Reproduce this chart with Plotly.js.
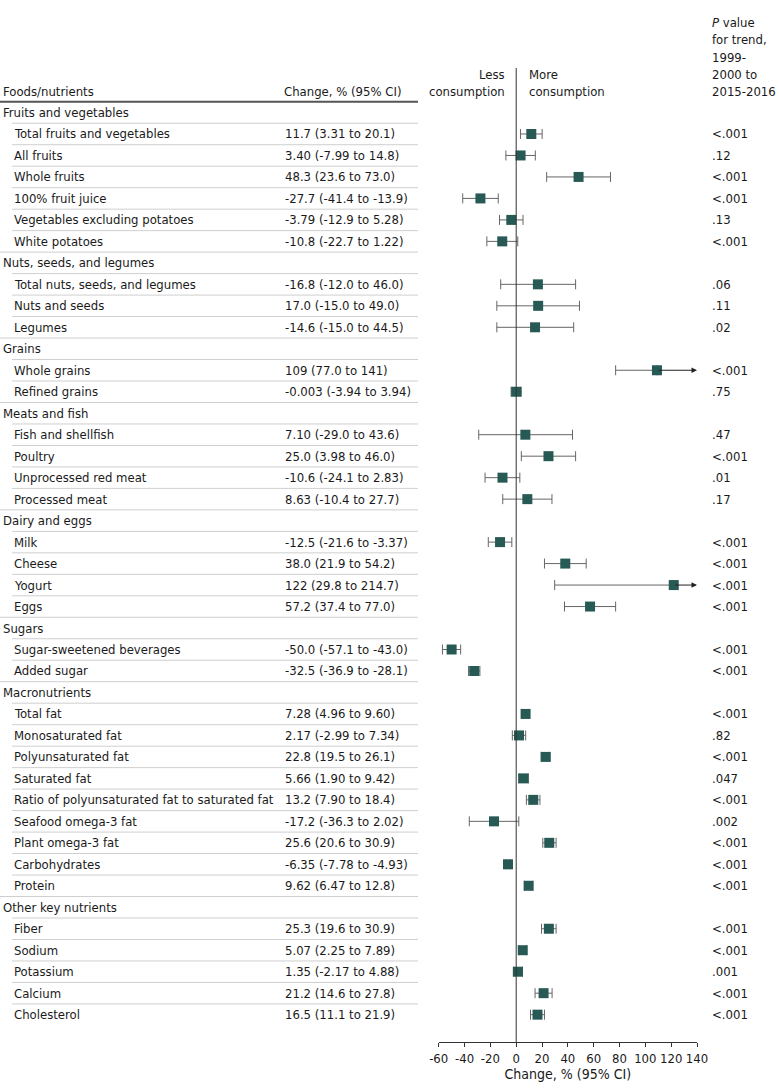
<!DOCTYPE html>
<html>
<head>
<meta charset="utf-8">
<script src="https://cdn.plot.ly/plotly-3.0.1.min.js"></script>
<style>html,body{margin:0;padding:0;background:#fff;}#chart{width:780px;height:1092px;}</style>
</head>
<body>
<div id="chart"></div>
<script>
// ---------------- DATA ----------------
const groups = ["Fruits and vegetables", "Nuts, seeds, and legumes", "Grains", "Meats and fish",
  "Dairy and eggs", "Sugars", "Macronutrients", "Other key nutrients"];

const items = ["Total fruits and vegetables", "All fruits", "Whole fruits", "100% fruit juice",
  "Vegetables excluding potatoes", "White potatoes",
  "Total nuts, seeds, and legumes", "Nuts and seeds", "Legumes",
  "Whole grains", "Refined grains",
  "Fish and shellfish", "Poultry", "Unprocessed red meat", "Processed meat",
  "Milk", "Cheese", "Yogurt", "Eggs",
  "Sugar-sweetened beverages", "Added sugar",
  "Total fat", "Monosaturated fat", "Polyunsaturated fat", "Saturated fat",
  "Ratio of polyunsaturated fat to saturated fat", "Seafood omega-3 fat", "Plant omega-3 fat",
  "Carbohydrates", "Protein",
  "Fiber", "Sodium", "Potassium", "Calcium", "Cholesterol"];

const itemGroup = [0, 0, 0, 0, 0, 0, 1, 1, 1, 2, 2, 3, 3, 3, 3, 4, 4, 4, 4, 5, 5,
  6, 6, 6, 6, 6, 6, 6, 6, 6, 7, 7, 7, 7, 7];

const estimate = [11.7, 3.40, 48.3, -27.7, -3.79, -10.8,
  16.8, 17.0, 14.6,
  109, -0.003,
  7.10, 25.0, -10.6, 8.63,
  -12.5, 38.0, 122, 57.2,
  -50.0, -32.5,
  7.28, 2.17, 22.8, 5.66, 13.2, -17.2, 25.6, -6.35, 9.62,
  25.3, 5.07, 1.35, 21.2, 16.5];

const lower = [3.31, -7.99, 23.6, -41.4, -12.9, -22.7,
  -12.0, -15.0, -15.0,
  77.0, -3.94,
  -29.0, 3.98, -24.1, -10.4,
  -21.6, 21.9, 29.8, 37.4,
  -57.1, -36.9,
  4.96, -2.99, 19.5, 1.90, 7.90, -36.3, 20.6, -7.78, 6.47,
  19.6, 2.25, -2.17, 14.6, 11.1];

const upper = [20.1, 14.8, 73.0, -13.9, 5.28, 1.22,
  46.0, 49.0, 44.5,
  141, 3.94,
  43.6, 46.0, 2.83, 27.7,
  -3.37, 54.2, 214.7, 77.0,
  -43.0, -28.1,
  9.60, 7.34, 26.1, 9.42, 18.4, 2.02, 30.9, -4.93, 12.8,
  30.9, 7.89, 4.88, 27.8, 21.9];

const ciText = ["11.7 (3.31 to 20.1)", "3.40 (-7.99 to 14.8)", "48.3 (23.6 to 73.0)",
  "-27.7 (-41.4 to -13.9)", "-3.79 (-12.9 to 5.28)", "-10.8 (-22.7 to 1.22)",
  "-16.8 (-12.0 to 46.0)", "17.0 (-15.0 to 49.0)", "-14.6 (-15.0 to 44.5)",
  "109 (77.0 to 141)", "-0.003 (-3.94 to 3.94)",
  "7.10 (-29.0 to 43.6)", "25.0 (3.98 to 46.0)", "-10.6 (-24.1 to 2.83)", "8.63 (-10.4 to 27.7)",
  "-12.5 (-21.6 to -3.37)", "38.0 (21.9 to 54.2)", "122 (29.8 to 214.7)", "57.2 (37.4 to 77.0)",
  "-50.0 (-57.1 to -43.0)", "-32.5 (-36.9 to -28.1)",
  "7.28 (4.96 to 9.60)", "2.17 (-2.99 to 7.34)", "22.8 (19.5 to 26.1)", "5.66 (1.90 to 9.42)",
  "13.2 (7.90 to 18.4)", "-17.2 (-36.3 to 2.02)", "25.6 (20.6 to 30.9)", "-6.35 (-7.78 to -4.93)",
  "9.62 (6.47 to 12.8)",
  "25.3 (19.6 to 30.9)", "5.07 (2.25 to 7.89)", "1.35 (-2.17 to 4.88)", "21.2 (14.6 to 27.8)",
  "16.5 (11.1 to 21.9)"];

const pValue = ["<.001", ".12", "<.001", "<.001", ".13", "<.001",
  ".06", ".11", ".02",
  "<.001", ".75",
  ".47", "<.001", ".01", ".17",
  "<.001", "<.001", "<.001", "<.001",
  "<.001", "<.001",
  "<.001", ".82", "<.001", ".047", "<.001", ".002", "<.001", "<.001", "<.001",
  "<.001", "<.001", ".001", "<.001", "<.001"];

const xTickVals = [-60, -40, -20, 0, 20, 40, 60, 80, 100, 120, 140];
const xTickText = ["-60", "-40", "-20", "0", "20", "40", "60", "80", "100", "120", "140"];
const xRange = [-60, 140];

const colHeaders = {name: "Foods/nutrients", ci: "Change, % (95% CI)",
  less: ["Less", "consumption"], more: ["More", "consumption"],
  p: ["<i>P</i> value", "for trend,", "1999-", "2000 to", "2015-2016"]};
const axisTitle = "Change, % (95% CI)";

// ---------------- LAYOUT HELPERS ----------------
const W = 780, H = 1092;
const FONT = "'DejaVu Sans Condensed', 'Liberation Sans Narrow', 'Roboto Condensed', 'DejaVu Sans', sans-serif";
const TXT = "#1a1a1a";
const FS = 13;
const plotTop = 68, plotBottom = 1042;
const row0 = 112.5, rowH = 21.48;
const rowOf = p => (p - row0) / rowH;
const paperY = p => (plotBottom - p) / (plotBottom - plotTop);
const xLeft = 438.7, xRight = 697;
const px = v => v / W;

// build rows
const rows = [];
groups.forEach((g, gi) => {
  rows.push({type: "h", label: g, g: gi});
  items.forEach((it, k) => { if (itemGroup[k] === gi) rows.push({type: "i", label: it, k: k}); });
});
const nRows = rows.length;

const annotations = [];
const shapes = [];
const tfont = {family: FONT, size: FS, color: TXT};

// table text
rows.forEach((r, i) => {
  annotations.push({xref: "paper", yref: "y", x: px(r.type === "h" ? 1 : 12), y: i,
    text: r.label, showarrow: false, xanchor: "left", yanchor: "middle", font: tfont});
  if (r.type === "i") {
    annotations.push({xref: "paper", yref: "y", x: px(283), y: i, text: ciText[r.k],
      showarrow: false, xanchor: "left", yanchor: "middle", font: tfont});
    annotations.push({xref: "paper", yref: "y", x: px(710), y: i, text: pValue[r.k],
      showarrow: false, xanchor: "left", yanchor: "middle", font: tfont});
  }
  if (i < nRows - 1) {
    const nextHeader = rows[i + 1].type === "h";
    shapes.push({type: "line", xref: "paper", yref: "y", x0: px(nextHeader ? 0 : 12), x1: px(418),
      y0: i + 0.5, y1: i + 0.5, line: {color: "#cfcfcf", width: 1}});
  }
});

// column headers (pixel positioned, paper coords)
const hdr = (text, x, y, anchor) => annotations.push({xref: "paper", yref: "paper", x: px(x), y: paperY(y),
  text: text, showarrow: false, xanchor: anchor, yanchor: "middle", font: tfont});
hdr(colHeaders.name, 1, 91.5, "left");
hdr(colHeaders.ci, 282, 91.5, "left");
hdr(colHeaders.less[0], 507, 74, "right");
hdr(colHeaders.less[1], 507, 91.5, "right");
hdr(colHeaders.more[0], 527, 74, "left");
hdr(colHeaders.more[1], 527, 91.5, "left");
colHeaders.p.forEach((t, j) => hdr(t, 710, 22.7 + j * 17.2, "left"));

// thick rule under header
shapes.push({type: "line", xref: "paper", yref: "y", x0: 0, x1: px(418), y0: -0.5, y1: -0.5,
  line: {color: "#555", width: 2}});
// zero reference line
shapes.push({type: "line", xref: "x", yref: "paper", x0: 0, x1: 0, y0: 0, y1: 1,
  line: {color: "#333", width: 1}});

// point data
const ys = [], xs = [], ep = [], em = [];
rows.forEach((r, i) => {
  if (r.type !== "i") return;
  const k = r.k;
  ys.push(i); xs.push(estimate[k]);
  em.push(estimate[k] - lower[k]);
  if (upper[k] > xRange[1]) {
    ep.push(0);
    annotations.push({xref: "x", yref: "y", axref: "x", ayref: "y", x: xRange[1], y: i,
      ax: estimate[k], ay: i, text: "", showarrow: true, arrowhead: 2, arrowsize: 1.1,
      arrowwidth: 1, arrowcolor: "#222", standoff: 0, startstandoff: 0});
  } else {
    ep.push(upper[k] - estimate[k]);
  }
});

const trace = {
  type: "scatter", mode: "markers", x: xs, y: ys,
  marker: {symbol: "square", size: 10, color: "#285a55", line: {width: 0}},
  error_x: {type: "data", symmetric: false, array: ep, arrayminus: em,
    color: "#666", thickness: 1, width: 5},
  hoverinfo: "skip", cliponaxis: false
};

const layout = {
  width: W, height: H,
  margin: {l: 0, r: 0, t: plotTop, b: H - plotBottom, pad: 0},
  paper_bgcolor: "#fff", plot_bgcolor: "#fff",
  showlegend: false,
  font: tfont,
  xaxis: {domain: [xLeft / W, xRight / W], range: xRange, tickvals: xTickVals, ticktext: xTickText,
    tickangle: 0, ticks: "outside", ticklen: 4, tickwidth: 1, tickcolor: "#333", showline: true,
    linecolor: "#333", linewidth: 1, showgrid: false, zeroline: false, fixedrange: true,
    tickfont: tfont,
    title: {text: axisTitle, font: {family: FONT, size: 14, color: TXT}, standoff: 3}},
  yaxis: {range: [rowOf(plotBottom), rowOf(plotTop)], showgrid: false, zeroline: false,
    showticklabels: false, ticks: "", showline: false, fixedrange: true},
  annotations: annotations, shapes: shapes
};

Plotly.newPlot("chart", [trace], layout, {staticPlot: true, displayModeBar: false});
</script>
</body>
</html>
